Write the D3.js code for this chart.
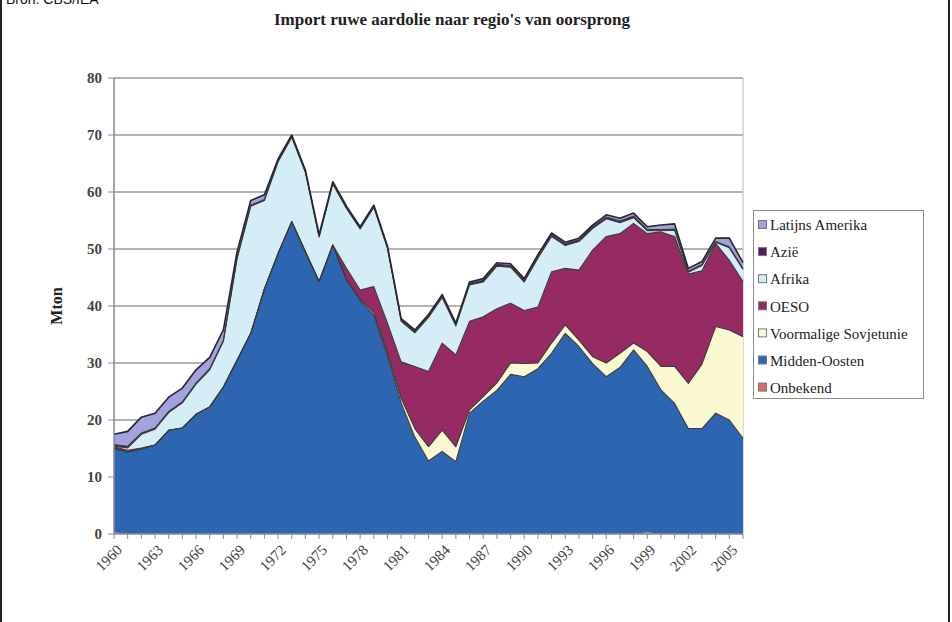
<!DOCTYPE html>
<html>
<head>
<meta charset="utf-8">
<script src="https://cdn.jsdelivr.net/npm/d3@7"></script>
<style>
  body { margin: 0; background: #fff; }
  svg { display: block; }
  .serif { font-family: 'Liberation Serif', 'Times New Roman', serif; }
</style>
</head>
<body>
<div id="chart"></div>
<script>
// data (Mton per year)
const years = [1960, 1961, 1962, 1963, 1964, 1965, 1966, 1967, 1968, 1969,
  1970, 1971, 1972, 1973, 1974, 1975, 1976, 1977, 1978, 1979,
  1980, 1981, 1982, 1983, 1984, 1985, 1986, 1987, 1988, 1989,
  1990, 1991, 1992, 1993, 1994, 1995, 1996, 1997, 1998, 1999,
  2000, 2001, 2002, 2003, 2004, 2005, 2006];

const onbekend = [0.3, 0, 0, 0, 0, 0, 0, 0, 0, 0,
  0, 0, 0, 0, 0, 0, 0, 0, 0, 0,
  0, 0, 0, 0, 0, 0, 0, 0, 0, 0,
  0, 0, 0, 0, 0, 0, 0, 0, 0, 0.3,
  0, 0, 0, 0, 0, 0, 0];

const middenOosten = [14.7, 14.4, 14.9, 15.6, 18.2, 18.6, 21.0, 22.3, 25.8, 30.5,
  35.2, 43.0, 49.2, 54.8, 49.5, 44.3, 50.7, 44.6, 41.0, 38.4,
  31.3, 23.0, 17.0, 12.8, 14.5, 12.7, 21.2, 23.3, 25.2, 28.0,
  27.6, 29.0, 31.7, 35.2, 32.9, 29.9, 27.6, 29.2, 32.3, 29.1,
  25.3, 22.9, 18.5, 18.5, 21.2, 20.0, 16.8];

const sovjetunie = [0, 0, 0, 0, 0, 0, 0, 0, 0, 0,
  0, 0, 0, 0, 0, 0, 0, 0, 0.2, 0.4,
  0.5, 0.8, 1.5, 2.5, 3.7, 2.6, 0.6, 0.8, 1.3, 2.0,
  2.3, 1.0, 1.8, 1.5, 1.1, 1.2, 2.4, 2.5, 1.2, 2.6,
  4.1, 6.5, 7.9, 11.3, 15.2, 15.8, 17.8];

const oeso = [0.3, 0.3, 0.2, 0, 0, 0, 0, 0, 0, 0,
  0, 0, 0, 0, 0, 0, 0, 2.0, 1.6, 4.6,
  5.2, 6.4, 10.9, 13.2, 15.3, 16.1, 15.5, 14.0, 13.0, 10.5,
  9.3, 9.8, 12.5, 9.9, 12.3, 18.7, 22.2, 21.0, 21.0, 20.7,
  23.6, 22.8, 19.2, 16.4, 14.6, 12.2, 9.7];

const afrika = [0.1, 0.4, 2.4, 2.8, 3.1, 4.4, 5.3, 6.5, 8.0, 17.8,
  22.3, 15.5, 16.1, 14.8, 13.9, 7.8, 10.7, 10.5, 10.7, 13.9,
  13.1, 7.1, 5.9, 9.5, 8.0, 5.1, 6.4, 6.1, 7.5, 6.3,
  5.0, 8.6, 6.2, 4.0, 5.0, 3.8, 3.1, 1.9, 1.0, 0.5,
  0.2, 1.1, 0.3, 0.9, 0.2, 2.2, 2.1];

const azie = [0.3, 0.3, 0.2, 0.2, 0.2, 0.2, 0.2, 0.2, 0.2, 0.2,
  0.2, 0.2, 0.2, 0.2, 0.2, 0.2, 0.2, 0.2, 0.2, 0.2,
  0.2, 0.3, 0.3, 0.3, 0.3, 0.3, 0.3, 0.3, 0.3, 0.3,
  0.3, 0.3, 0.3, 0.3, 0.3, 0.3, 0.3, 0.3, 0.3, 0.2,
  0.2, 0.2, 0.2, 0.2, 0.1, 0.2, 0.2];

const latijnsAmerika = [1.8, 2.6, 2.8, 2.6, 2.5, 2.4, 2.3, 2.0, 1.8, 1.0,
  0.8, 0.8, 0.3, 0.2, 0.2, 0.2, 0.2, 0.2, 0.2, 0.2,
  0.2, 0.2, 0.2, 0.2, 0.2, 0.2, 0.2, 0.3, 0.3, 0.3,
  0.3, 0.3, 0.3, 0.3, 0.3, 0.3, 0.4, 0.5, 0.5, 0.5,
  0.8, 0.9, 0.5, 0.5, 0.6, 1.5, 1.0];

// stacking order bottom -> top
const seriesNames = ['Onbekend', 'Midden-Oosten', 'Voormalige Sovjetunie', 'OESO', 'Afrika', 'Azië', 'Latijns Amerika'];
const seriesValues = [onbekend, middenOosten, sovjetunie, oeso, afrika, azie, latijnsAmerika];
const seriesColors = ['#e06a68', '#2e65b0', '#fbf9d2', '#962a62', '#d5edf6', '#52195f', '#a3a2dc'];

const xTickYears = [1960, 1963, 1966, 1969, 1972, 1975, 1978, 1981, 1984, 1987, 1990, 1993, 1996, 1999, 2002, 2005];
const yTicks = [0, 10, 20, 30, 40, 50, 60, 70, 80];

const width = 952, height = 622;
const plot = { left: 114, right: 743, top: 78, bottom: 534 };

const svg = d3.select('#chart')
  .append('svg')
  .attr('width', width)
  .attr('height', height);

// frame edges of the original picture
svg.append('line').attr('x1', 1).attr('x2', 1).attr('y1', 0).attr('y2', height)
  .attr('stroke', '#222').attr('stroke-width', 2);
svg.append('line').attr('x1', 949).attr('x2', 949).attr('y1', 0).attr('y2', height)
  .attr('stroke', '#222').attr('stroke-width', 2);

svg.append('text')
  .attr('x', 6).attr('y', 4)
  .style('font-family', "'Liberation Sans', Arial, sans-serif")
  .style('font-size', '14px')
  .attr('fill', '#111')
  .text('Bron: CBS/IEA');

svg.append('text')
  .attr('class', 'serif')
  .attr('x', 452).attr('y', 25)
  .attr('text-anchor', 'middle')
  .style('font-weight', 'bold')
  .style('font-size', '17px')
  .attr('fill', '#222')
  .text("Import ruwe aardolie naar regio's van oorsprong");

const x = d3.scaleLinear().domain([1960, 2006]).range([plot.left, plot.right]);
const y = d3.scaleLinear().domain([0, 80]).range([plot.bottom, plot.top]);

// gridlines
svg.append('g')
  .selectAll('line')
  .data(yTicks.filter(d => d > 0))
  .join('line')
  .attr('x1', plot.left).attr('x2', plot.right)
  .attr('y1', d => y(d)).attr('y2', d => y(d))
  .attr('stroke', '#9a9a9a')
  .attr('stroke-width', 1.3);

// right border of plot area
svg.append('line')
  .attr('x1', plot.right).attr('x2', plot.right)
  .attr('y1', plot.top).attr('y2', plot.bottom)
  .attr('stroke', '#b8b8b8');

const rows = years.map((yr, i) => {
  const r = { year: yr };
  seriesNames.forEach((n, k) => { r[n] = seriesValues[k][i]; });
  return r;
});

const stacked = d3.stack().keys(seriesNames)(rows);

const area = d3.area()
  .x(d => x(d.data.year))
  .y0(d => y(d[0]))
  .y1(d => y(d[1]));

const topLine = d3.line()
  .x(d => x(d.data.year))
  .y(d => y(d[1]));

svg.append('g')
  .selectAll('path')
  .data(stacked)
  .join('path')
  .attr('d', area)
  .attr('fill', (d, i) => seriesColors[i]);

// dark borders along each layer's upper edge
svg.append('g')
  .selectAll('path')
  .data(stacked.slice(1))
  .join('path')
  .attr('d', topLine)
  .attr('fill', 'none')
  .attr('stroke', (d, i) => i === stacked.length - 2 ? '#262630' : '#3a3a3a')
  .attr('stroke-width', (d, i) => i === stacked.length - 2 ? 1.6 : 1.1)
  .attr('stroke-linejoin', 'round');

// y axis
const yAxis = svg.append('g');
yAxis.append('line')
  .attr('x1', plot.left).attr('x2', plot.left)
  .attr('y1', plot.top).attr('y2', plot.bottom)
  .attr('stroke', '#8a8a98').attr('stroke-width', 1.5);
yAxis.selectAll('line.tick')
  .data(yTicks)
  .join('line')
  .attr('class', 'tick')
  .attr('x1', plot.left - 6).attr('x2', plot.left)
  .attr('y1', d => y(d)).attr('y2', d => y(d))
  .attr('stroke', '#8a8a98');
yAxis.selectAll('text')
  .data(yTicks)
  .join('text')
  .attr('class', 'serif')
  .attr('x', plot.left - 12)
  .attr('y', d => y(d))
  .attr('dy', '0.35em')
  .attr('text-anchor', 'end')
  .style('font-size', '15px')
  .style('font-weight', 'bold')
  .attr('fill', '#444')
  .text(d => d);

svg.append('text')
  .attr('class', 'serif')
  .attr('transform', 'translate(62,306) rotate(-90)')
  .attr('text-anchor', 'middle')
  .style('font-weight', 'bold')
  .style('font-size', '16px')
  .attr('fill', '#222')
  .text('Mton');

// x axis
const xAxis = svg.append('g');
xAxis.append('line')
  .attr('x1', plot.left).attr('x2', plot.right)
  .attr('y1', plot.bottom).attr('y2', plot.bottom)
  .attr('stroke', '#8a8a98').attr('stroke-width', 1.5);
xAxis.selectAll('line.tick')
  .data(years)
  .join('line')
  .attr('class', 'tick')
  .attr('x1', d => x(d)).attr('x2', d => x(d))
  .attr('y1', plot.bottom).attr('y2', plot.bottom + 5)
  .attr('stroke', '#8a8a98');
xAxis.selectAll('text')
  .data(xTickYears)
  .join('text')
  .attr('class', 'serif')
  .attr('transform', d => `translate(${x(d) + 9},${plot.bottom + 17}) rotate(-45)`)
  .attr('text-anchor', 'end')
  .style('font-size', '15px')
  .attr('fill', '#444')
  .text(d => d);

// legend (top series first, as in the original)
const legend = svg.append('g');
legend.append('rect')
  .attr('x', 753.5).attr('y', 210.5)
  .attr('width', 170).attr('height', 188)
  .attr('fill', '#fff')
  .attr('stroke', '#8c8c8c');

const legendItems = seriesNames.map((n, i) => ({ name: n, color: seriesColors[i] })).reverse();
const li = legend.selectAll('g.item')
  .data(legendItems)
  .join('g')
  .attr('class', 'item')
  .attr('transform', (d, i) => `translate(758,${225 + i * 27.1})`);
li.append('rect')
  .attr('x', 0.5).attr('y', -4.5)
  .attr('width', 8).attr('height', 8)
  .attr('fill', d => d.color)
  .attr('stroke', '#777');
li.append('text')
  .attr('class', 'serif')
  .attr('x', 12).attr('y', 0)
  .attr('dy', '0.35em')
  .style('font-size', '15px')
  .attr('fill', '#222')
  .text(d => d.name);
</script>
</body>
</html>
